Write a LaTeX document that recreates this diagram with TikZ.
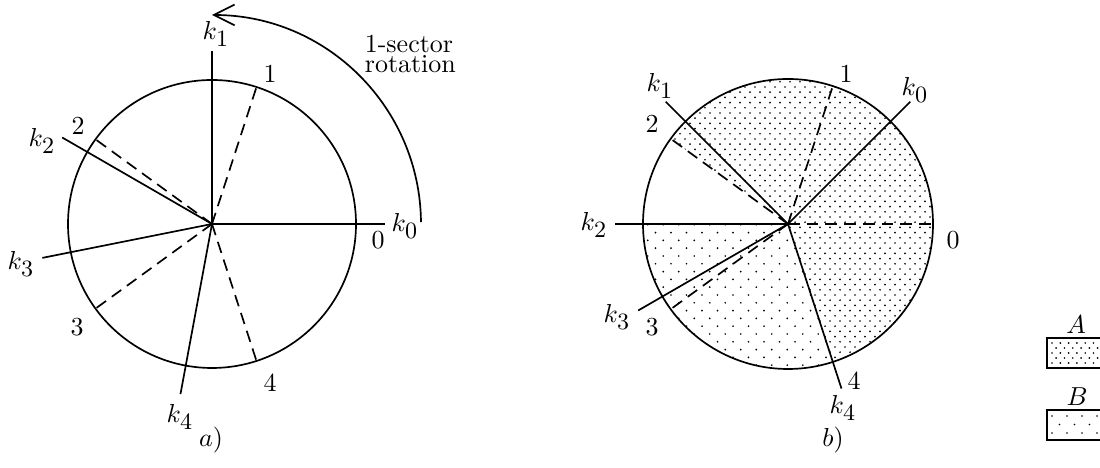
\documentclass[tikz,border=0pt]{standalone}
\usetikzlibrary{arrows.meta}
\newcommand\dotfield[6]{%
  \foreach \r in {0,...,#4}{%
    \pgfmathsetmacro\dotoff{mod(\r,2)*#5/2}%
    \foreach \c in {0,...,#3}{%
      \fill ({#1+\c*#5+\dotoff},{#2+\r*#6}) circle[radius=0.95];}}}
\newcommand\kl[1]{$k_{\mbox{\small #1}}$}
\begin{document}
\begin{tikzpicture}[x=0.385pt,y=0.385pt,line width=0.65pt,
  sectline/.style={dash pattern=on 4.5pt off 2.7pt},
  lbl/.style={inner sep=0pt}]
\useasboundingbox (0,0) rectangle (1100,468);
\coordinate (A0) at (212,244);
\coordinate (B0) at (788,244);

% ---------------- a) ----------------
\draw (A0) circle[radius=144];
\foreach \a in {72,144,216,288} \draw[sectline] (A0) -- ++(\a:144);
\foreach \a/\n in {0/0,90/1,150/2,191.3/3,259.5/4}
  \draw (A0) -- ++(\a:173) coordinate (ak\n);
\node[lbl] (ak0l) at (405,242) {\kl{0}};
\node[lbl] (ak1l) at (216,434) {\kl{1}};
\node[lbl] (ak2l) at (42,327) {\kl{2}};
\node[lbl] (ak3l) at (21,204) {\kl{3}};
\node[lbl] (ak4l) at (180,51) {\kl{4}};
\node[lbl] (an0) at (378,228) {0};
\node[lbl] (an1) at (270,394) {1};
\node[lbl] (an2) at (78,342) {2};
\node[lbl] (an3) at (77,141) {3};
\node[lbl] (an4) at (270,85) {4};
\node[lbl] (acap) at (211,28) {$a)$};
\draw[-{Straight Barb[length=8pt,width=8pt]}] (A0) ++(0.5:209) coordinate (rs)
  arc[start angle=0.5,end angle=90,radius=209] coordinate (re);
\node[lbl,align=left,anchor=base west,font=\fontsize{10pt}{7.7pt}\selectfont]
  (rot) at (364,395) {1-sector\\rotation};

% ---------------- b) ----------------
\begin{scope}
  \clip (B0) -- ++(-72:145) arc[start angle=-72,end angle=144,radius=145] -- cycle;
  \dotfield{640}{95}{30}{57}{10}{5.2}
\end{scope}
\begin{scope}
  \clip (B0) -- ++(180:145) arc[start angle=180,end angle=288,radius=145] -- cycle;
  \dotfield{640}{95}{20}{38}{15.5}{7.8}
\end{scope}
\draw (B0) circle[radius=145];
\foreach \a in {0,72,144,216} \draw[sectline] (B0) -- ++(\a:145);
\foreach \a/\n in {45/0,135/1,180/2,210/3,288/4}
  \draw (B0) -- ++(\a:173) coordinate (bk\n);
\node[lbl] (bk0l) at (915,378) {\kl{0}};
\node[lbl] (bk1l) at (660,382) {\kl{1}};
\node[lbl] (bk2l) at (594,243) {\kl{2}};
\node[lbl] (bk3l) at (617,151) {\kl{3}};
\node[lbl] (bk4l) at (843,60) {\kl{4}};
\node[lbl] (bn0) at (953,228) {0};
\node[lbl] (bn1) at (846,394) {1};
\node[lbl] (bn2) at (652,344) {2};
\node[lbl] (bn3) at (652,141) {3};
\node[lbl] (bn4) at (854,87) {4};
\node[lbl] (bcap) at (833,28) {$b)$};

% ---------------- legend ----------------
\node[lbl] (legA) at (1076,143) {$A$};
\begin{scope}
  \clip (1047,100) rectangle (1110,130);
  \dotfield{1052}{105}{8}{5}{8.3}{5}
\end{scope}
\draw (1047,100) rectangle (1110,130);
\node[lbl] (legB) at (1077,71) {$B$};
\begin{scope}
  \clip (1047,28) rectangle (1110,58);
  \dotfield{1052}{35}{4}{3}{15}{8.5}
\end{scope}
\draw (1047,28) rectangle (1110,58);
\end{tikzpicture}
\end{document}
